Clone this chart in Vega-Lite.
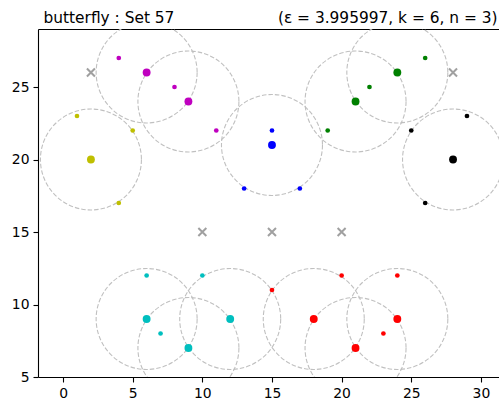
{
  "$schema": "https://vega.github.io/schema/vega-lite/v6.json",
  "autosize": {"type": "none"},
  "padding": {"left": 38, "top": 29, "right": 0, "bottom": 22},
  "width": 461,
  "height": 348,
  "config": {"view": {"stroke": null}, "font": "DejaVu Sans"},
  "data": {
    "values": [
      {"x": 6, "y": 26, "cluster": "m", "kind": "core"},
      {"x": 9, "y": 24, "cluster": "m", "kind": "core"},
      {"x": 4, "y": 27, "cluster": "m", "kind": "border"},
      {"x": 8, "y": 25, "cluster": "m", "kind": "border"},
      {"x": 11, "y": 22, "cluster": "m", "kind": "border"},
      {"x": 2, "y": 20, "cluster": "y", "kind": "core"},
      {"x": 1, "y": 23, "cluster": "y", "kind": "border"},
      {"x": 5, "y": 22, "cluster": "y", "kind": "border"},
      {"x": 4, "y": 17, "cluster": "y", "kind": "border"},
      {"x": 15, "y": 21, "cluster": "b", "kind": "core"},
      {"x": 15, "y": 22, "cluster": "b", "kind": "border"},
      {"x": 13, "y": 18, "cluster": "b", "kind": "border"},
      {"x": 17, "y": 18, "cluster": "b", "kind": "border"},
      {"x": 21, "y": 24, "cluster": "g", "kind": "core"},
      {"x": 24, "y": 26, "cluster": "g", "kind": "core"},
      {"x": 22, "y": 25, "cluster": "g", "kind": "border"},
      {"x": 26, "y": 27, "cluster": "g", "kind": "border"},
      {"x": 19, "y": 22, "cluster": "g", "kind": "border"},
      {"x": 28, "y": 20, "cluster": "k", "kind": "core"},
      {"x": 25, "y": 22, "cluster": "k", "kind": "border"},
      {"x": 29, "y": 23, "cluster": "k", "kind": "border"},
      {"x": 26, "y": 17, "cluster": "k", "kind": "border"},
      {"x": 6, "y": 9, "cluster": "c", "kind": "core"},
      {"x": 9, "y": 7, "cluster": "c", "kind": "core"},
      {"x": 12, "y": 9, "cluster": "c", "kind": "core"},
      {"x": 6, "y": 12, "cluster": "c", "kind": "border"},
      {"x": 7, "y": 8, "cluster": "c", "kind": "border"},
      {"x": 10, "y": 12, "cluster": "c", "kind": "border"},
      {"x": 18, "y": 9, "cluster": "r", "kind": "core"},
      {"x": 21, "y": 7, "cluster": "r", "kind": "core"},
      {"x": 24, "y": 9, "cluster": "r", "kind": "core"},
      {"x": 15, "y": 11, "cluster": "r", "kind": "border"},
      {"x": 20, "y": 12, "cluster": "r", "kind": "border"},
      {"x": 24, "y": 12, "cluster": "r", "kind": "border"},
      {"x": 23, "y": 8, "cluster": "r", "kind": "border"},
      {"x": 2, "y": 26, "cluster": "noise", "kind": "noise"},
      {"x": 28, "y": 26, "cluster": "noise", "kind": "noise"},
      {"x": 10, "y": 15, "cluster": "noise", "kind": "noise"},
      {"x": 15, "y": 15, "cluster": "noise", "kind": "noise"},
      {"x": 20, "y": 15, "cluster": "noise", "kind": "noise"}
    ]
  },
  "encoding": {
    "y": {
      "field": "y",
      "type": "quantitative",
      "scale": {"domain": [5, 29], "nice": false, "zero": false},
      "axis": {
        "values": [5, 10, 15, 20, 25],
        "title": "butterfly : Set 57",
        "titleFont": "DejaVu Sans",
        "titleFontSize": 15.4,
        "titleFontWeight": "normal",
        "titleColor": "black",
        "titleAlign": "left",
        "titleBaseline": "alphabetic",
        "titleAnchor": null,
        "titleAngle": 0,
        "titleX": 5,
        "titleY": -7,
        "grid": false,
        "domainColor": "black",
        "domainWidth": 1.1,
        "tickColor": "black",
        "tickWidth": 1.1,
        "tickSize": 5,
        "labelFont": "DejaVu Sans",
        "labelFontSize": 13.9,
        "labelColor": "black",
        "labelPadding": 4
      }
    }
  },
  "layer": [
    {
      "transform": [{"filter": "datum.kind == 'core'"}],
      "mark": {
        "type": "point",
        "shape": "circle",
        "filled": false,
        "size": 10200,
        "stroke": "#c0c0c0",
        "strokeWidth": 1.1,
        "strokeDash": [4.5, 2],
        "opacity": 1,
        "clip": true
      },
      "encoding": {
        "x": {
          "field": "x",
          "type": "quantitative",
          "scale": {"domain": [-1.8, 31.3], "nice": false, "zero": false},
          "axis": {
            "orient": "bottom",
            "values": [0, 5, 10, 15, 20, 25, 30],
            "title": null,
            "grid": false,
            "domainColor": "black",
            "domainWidth": 1.1,
            "tickColor": "black",
            "tickWidth": 1.1,
            "tickSize": 5,
            "labelFont": "DejaVu Sans",
            "labelFontSize": 13.9,
            "labelColor": "black",
            "labelPadding": 4
          }
        }
      }
    },
    {
      "transform": [{"filter": "datum.kind != 'noise'"}],
      "mark": {"type": "circle", "opacity": 1, "clip": true},
      "encoding": {
        "x": {
          "field": "x",
          "type": "quantitative",
          "scale": {"domain": [-1.8, 31.3], "nice": false, "zero": false},
          "axis": null
        },
        "color": {
          "field": "cluster",
          "type": "nominal",
          "scale": {
            "domain": ["m", "y", "b", "g", "k", "c", "r"],
            "range": ["#bf00bf", "#bfbf00", "#0000ff", "#008000", "#000000", "#00bfbf", "#ff0000"]
          },
          "legend": null
        },
        "size": {
          "field": "kind",
          "type": "nominal",
          "scale": {"domain": ["core", "border"], "range": [62, 22]},
          "legend": null
        }
      }
    },
    {
      "transform": [{"filter": "datum.kind == 'noise'"}],
      "mark": {
        "type": "point",
        "shape": "M-1,-1L1,1M1,-1L-1,1",
        "filled": false,
        "size": 64,
        "stroke": "#a0a0a0",
        "strokeWidth": 2,
        "opacity": 1,
        "clip": true
      },
      "encoding": {
        "x": {
          "field": "x",
          "type": "quantitative",
          "scale": {"domain": [-1.8, 31.3], "nice": false, "zero": false},
          "axis": {
            "orient": "top",
            "labels": false,
            "ticks": false,
            "grid": false,
            "domainColor": "black",
            "domainWidth": 1.1,
            "title": "(ε = 3.995997, k = 6, n = 3)",
            "titleFont": "DejaVu Sans",
            "titleFontSize": 15.4,
            "titleFontWeight": "normal",
            "titleColor": "black",
            "titleAlign": "right",
            "titleBaseline": "alphabetic",
            "titleAnchor": null,
            "titleX": 459,
            "titleY": -7,
            "titleAngle": 0
          }
        }
      }
    }
  ],
  "resolve": {"axis": {"x": "independent"}}
}
